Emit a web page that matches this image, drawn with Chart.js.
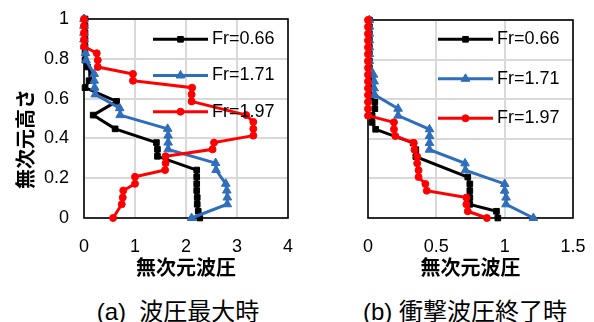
<!DOCTYPE html>
<html>
<head>
<meta charset="utf-8">
<script src="https://cdn.jsdelivr.net/npm/chart.js@4.4.0/dist/chart.umd.min.js"></script>
<style>
  html, body { margin: 0; padding: 0; background: #fff; }
  body { width: 594px; height: 322px; position: relative; overflow: hidden; font-family: 'Liberation Sans', Arial, sans-serif; color: #000; }
  canvas { position: absolute; top: 0; }
  #chartA { left: 0; }
  #chartB { left: 297px; }
  .ytitle { position: absolute; left: -38px; top: 127px; width: 120px; height: 24px; line-height: 24px; text-align: center;
            transform: rotate(-90deg); font: bold 20px 'Noto Sans CJK JP'; }
  .caption { position: absolute; top: 297px; width: 300px; height: 26px; line-height: 26px; text-align: center;
             font-size: 24px; white-space: pre; }
  .caption .jp { font-family: 'Noto Sans CJK JP'; }
</style>
</head>
<body>
<canvas id="chartA" width="297" height="285"></canvas>
<canvas id="chartB" width="297" height="285"></canvas>
<div class="ytitle">無次元高さ</div>
<div class="caption" style="left:28px">(a)  <span class="jp">波圧最大時</span></div>
<div class="caption" style="left:315px">(b) <span class="jp">衝撃波圧終了時</span></div>

<script>
// non-dimensional heights shared by all profiles
const HEIGHTS = [0, 0.034, 0.069, 0.103, 0.138, 0.172, 0.207, 0.241, 0.276, 0.310,
                 0.345, 0.379, 0.414, 0.448, 0.483, 0.517, 0.552, 0.586, 0.621, 0.655,
                 0.690, 0.724, 0.759, 0.793, 0.828, 0.862, 0.897, 0.931, 0.966, 1];

// (a) 波圧最大時 — pressure per height (null = no marker)
const A_FR066 = [2.27, 2.24, 2.22, 2.22, 2.21, 2.21, 2.21, 2.21, null, 1.44,
                 1.44, 1.42, null, 0.61, null, 0.18, null, 0.64, null, 0.02,
                 0.10, 0.15, 0.07, 0.02, 0.02, 0.02, 0.02, 0.02, 0.02, 0.02];
const A_FR171 = [2.11, null, 2.81, 2.81, 2.80, 2.78, null, 2.59, 2.58, null,
                 1.65, 1.65, 1.65, 1.64, null, 0.71, 0.70, null, 0.22, 0.21,
                 0.20, 0.20, null, 0.04, 0.03, 0.01, 0, 0, 0, 0];
const A_FR197 = [0.57, null, 0.74, 0.76, 0.77, 1.00, 1.00, 1.59, 1.60, 1.60,
                 2.52, 2.55, 3.32, 3.32, 3.32, 3.18, null, 2.11, 2.11, 2.12,
                 0.96, 0.96, 0.27, 0.27, 0.25, 0, 0, 0, 0, 0];

// (b) 衝撃波圧終了時
const B_FR066 = [0.95, 0.94, 0.745, 0.745, 0.745, 0.745, 0.73, null, null, 0.35,
                 0.35, 0.33, null, 0.056, 0.03, 0.03, 0.05, 0.05, 0.01, 0.01,
                 0.01, 0.01, 0.01, 0.01, 0.01, 0.01, 0.01, 0.01, 0.01, 0.01];
const B_FR171 = [1.21, null, 1.01, 1.01, 1.00, 1.00, null, 0.713, 0.71, null,
                 0.45, 0.45, 0.45, 0.45, null, 0.22, 0.22, null, 0.05, 0.045,
                 0.045, 0.04, 0.01, 0.01, 0.01, 0.01, 0.01, 0.01, 0.01, 0.01];
const B_FR197 = [0.87, 0.73, 0.72, 0.72, 0.43, 0.42, 0.37, 0.37, 0.36, 0.36,
                 0.34, 0.335, 0.20, 0.19, 0.19, 0, 0, 0, 0, 0,
                 0, 0, 0, 0, 0, 0, 0, 0, 0, 0];

const LABELS = ['Fr=0.66', 'Fr=1.71', 'Fr=1.97'];
const Y_TICKS = [0, 0.2, 0.4, 0.6, 0.8, 1];
const X_TICKS_A = [0, 1, 2, 3, 4];
const X_TICKS_B = [0, 0.5, 1, 1.5];
const X_TITLE = '無次元波圧';

const STYLES = [
  { color: '#000000', pointStyle: 'rect',     radius: 4 },
  { color: '#2F6EBA', pointStyle: 'triangle', radius: 5 },
  { color: '#FF0000', pointStyle: 'circle',   radius: 3.5 },
];

const TICK_FONT = { family: 'Liberation Sans', size: 18 };

function points(xs) {
  return HEIGHTS.map((h, i) => ({ x: xs[i], y: h })).filter(p => p.x !== null);
}

// ── full black frame round the plot area (under the markers) ──
const frame = {
  id: 'frame',
  beforeDatasetsDraw(chart) {
    const { ctx, chartArea: a } = chart;
    ctx.save();
    ctx.strokeStyle = '#000';
    ctx.lineWidth = 1.6;
    ctx.strokeRect(a.left, a.top, a.right - a.left, a.bottom - a.top);
    ctx.restore();
  }
};

// ── legend inside the plot, line + marker + text ──
const insideLegend = {
  id: 'insideLegend',
  afterDatasetsDraw(chart, args, o) {
    const { ctx, chartArea: a } = chart;
    const x0 = a.right - 135, x1 = a.right - 80;
    ctx.save();
    chart.data.datasets.forEach((ds, i) => {
      const y = a.top + o.rowStart + i * o.rowGap;
      ctx.strokeStyle = ds.borderColor;
      ctx.fillStyle = ds.backgroundColor;
      ctx.lineWidth = ds.borderWidth;
      ctx.beginPath(); ctx.moveTo(x0, y); ctx.lineTo(x1, y); ctx.stroke();
      ctx.lineWidth = 1;
      Chart.helpers.drawPoint(ctx, { pointStyle: ds.pointStyle, radius: ds.pointRadius, rotation: 0, borderWidth: 1 }, (x0 + x1) / 2, y);
      ctx.fillStyle = '#000';
      ctx.font = '18px "Liberation Sans"';
      ctx.textAlign = 'left';
      ctx.textBaseline = 'middle';
      ctx.fillText(ds.label, a.right - 76, y);
    });
    ctx.restore();
  }
};

function makeChart(id, series, xTicks, o) {
  const datasets = series.map((xs, i) => ({
    label: LABELS[i],
    data: points(xs),
    showLine: true,
    borderColor: STYLES[i].color,
    backgroundColor: STYLES[i].color,
    borderWidth: 3,
    pointStyle: STYLES[i].pointStyle,
    pointRadius: STYLES[i].radius,
    pointHoverRadius: STYLES[i].radius,
    pointBorderWidth: 1,
    order: series.length - i,   // last series on top, like Excel
    clip: false,
  }));

  return new Chart(document.getElementById(id), {
    type: 'scatter',
    data: { datasets },
    options: {
      responsive: false,
      animation: false,
      events: [],
      layout: { padding: { top: o.top, right: o.right, left: 0, bottom: 0 } },
      plugins: {
        legend: { display: false },
        tooltip: { enabled: false },
        insideLegend: { rowStart: o.legendStart, rowGap: o.legendGap },
      },
      scales: {
        x: {
          type: 'linear',
          min: xTicks[0], max: xTicks[xTicks.length - 1],
          afterBuildTicks: sc => { sc.ticks = xTicks.map(v => ({ value: v })); },
          // fixed axis box; edge labels may hang over the padding
          afterFit: sc => { sc.height = 285 - o.bottom; sc.paddingLeft = 0; sc.paddingRight = 0; },
          grid: { color: '#d9d9d9', lineWidth: 2, drawTicks: false },
          border: { display: false },
          ticks: { padding: 18, color: '#000', font: TICK_FONT, callback: v => String(v) },
          title: {
            display: true, text: X_TITLE, color: '#000',
            font: { family: 'Noto Sans CJK JP', size: 20, weight: 'bold' },
            padding: { top: 0, bottom: 6 },
          },
        },
        y: {
          type: 'linear',
          min: 0, max: 1,
          afterBuildTicks: sc => { sc.ticks = Y_TICKS.map(v => ({ value: v })); },
          afterFit: sc => { sc.width = o.left; sc.paddingTop = 0; sc.paddingBottom = 0; },
          grid: { color: '#d9d9d9', lineWidth: 2, drawTicks: false },
          border: { display: false },
          ticks: { display: o.yLabels, padding: 15, color: '#000', font: TICK_FONT, callback: v => String(v) },
        },
      },
    },
    plugins: [frame, insideLegend],
  });
}

makeChart('chartA', [A_FR066, A_FR171, A_FR197], X_TICKS_A,
  { left: 84, right: 9, top: 19, bottom: 218, yLabels: true, legendStart: 20.3, legendGap: 36.2 });
makeChart('chartB', [B_FR066, B_FR171, B_FR197], X_TICKS_B,
  { left: 71, right: 21, top: 20, bottom: 218, yLabels: false, legendStart: 19.3, legendGap: 39.5 });
</script>
</body>
</html>
